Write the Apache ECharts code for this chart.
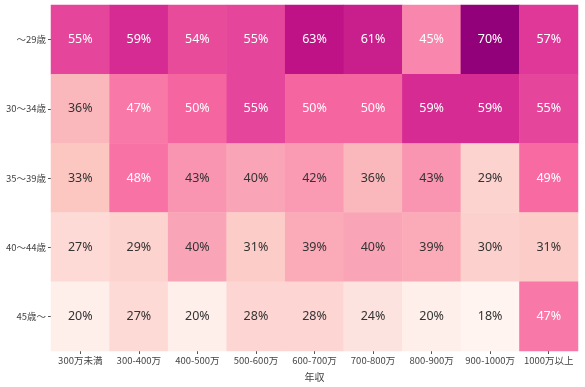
<!DOCTYPE html>
<html><head><meta charset="utf-8">
<script src="https://cdn.jsdelivr.net/npm/echarts@6/dist/echarts.min.js"></script>
<style>html,body{margin:0;padding:0;background:#fff}#c{width:585px;height:387px}</style>
</head><body><div id="c"></div>
<script>
const incomes = ['300万未満','300-400万','400-500万','500-600万','600-700万','700-800万','800-900万','900-1000万','1000万以上'];
const ages = ['〜29歳','30〜34歳','35〜39歳','40〜44歳','45歳〜'];
const row29 = [55,59,54,55,63,61,45,70,57];
const row30 = [36,47,50,55,50,50,59,59,55];
const row35 = [33,48,43,40,42,36,43,29,49];
const row40 = [27,29,40,31,39,40,39,30,31];
const row45 = [20,27,20,28,28,24,20,18,47];
const rows = [row29,row30,row35,row40,row45];

const data = [];
rows.forEach((r,yi)=>r.forEach((v,xi)=>{
  data.push({value:[xi,yi,v], label:{color: v>=45 ? '#ffffff' : '#333333'}});
}));

const chart = echarts.init(document.getElementById('c'));
chart.setOption({
  animation:false,
  grid:{left:51, top:5, right:7, bottom:32},
  xAxis:{type:'category', data:incomes, name:'年収', nameLocation:'middle', nameGap:21,
    nameTextStyle:{color:'#444', fontSize:10, fontFamily:'Noto Sans CJK JP'},
    axisLine:{show:false}, axisTick:{show:true, alignWithLabel:true, length:3, lineStyle:{color:'#555'}},
    axisLabel:{color:'#444', fontSize:9.5, margin:5, fontFamily:'Noto Sans CJK JP', interval:0},
    splitLine:{show:false}},
  yAxis:{type:'category', data:ages, inverse:true,
    axisLine:{show:false}, axisTick:{show:true, alignWithLabel:true, length:3, lineStyle:{color:'#555'}},
    axisLabel:{color:'#444', fontSize:9.5, margin:5, fontFamily:'Noto Sans CJK JP'},
    splitLine:{show:false}},
  visualMap:{show:false, min:17, max:82, dimension:2,
    inRange:{color:['#fff7f3','#fde0dd','#fcc5c0','#fa9fb5','#f768a1','#dd3497','#ae017e','#7a0177','#49006a']}},
  series:[{type:'heatmap', data:data,
    label:{show:true, fontSize:12.5, fontFamily:'Noto Sans', formatter:p=>p.value[2]+'%'},
    itemStyle:{borderWidth:0}}]
});
</script></body></html>
